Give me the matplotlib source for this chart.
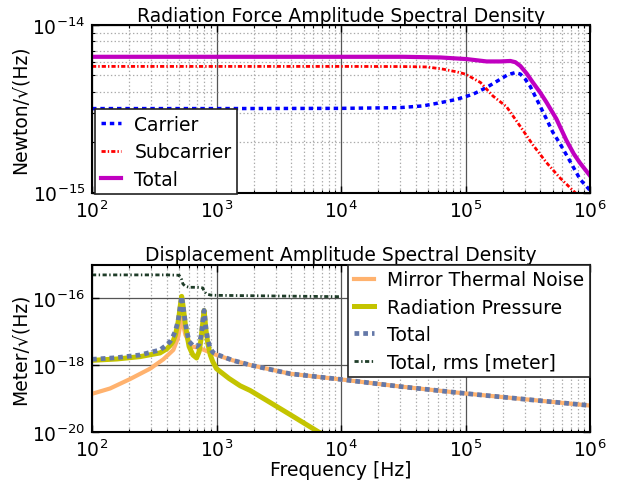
import numpy as np
import matplotlib
matplotlib.use("Agg")
import matplotlib.pyplot as plt
from matplotlib.ticker import LogLocator, NullFormatter, FixedLocator, NullLocator, LogFormatterSciNotation

# ---- top panel: radiation force ASD (log10 Hz, 1e-15 N/rtHz)
carrier_logf = [2.0, 3.0, 4.0, 4.47, 4.66, 4.80, 4.93, 5.06, 5.17, 5.28, 5.34, 5.40, 5.44,
                5.48, 5.52, 5.56, 5.60, 5.65, 5.70, 5.76, 5.81, 5.87, 5.92, 6.0]
carrier_val = [3.17, 3.17, 3.18, 3.21, 3.29, 3.44, 3.60, 3.86, 4.24, 4.75, 5.05, 5.20, 5.10,
               4.75, 4.30, 3.75, 3.27, 2.75, 2.30, 1.95, 1.68, 1.40, 1.20, 1.03]

sub_logf = [2.0, 3.0, 4.0, 4.5, 4.69, 4.82, 4.93, 5.0, 5.12, 5.22, 5.33, 5.44, 5.54,
            5.65, 5.76, 5.88, 6.0]
sub_val = [5.66, 5.66, 5.66, 5.65, 5.62, 5.45, 5.25, 5.09, 4.54, 3.77, 3.25, 2.48, 1.93,
           1.51, 1.22, 1.0, 0.82]

total_logf = [2.0, 3.0, 4.0, 4.5, 4.80, 5.01, 5.17, 5.28, 5.36, 5.40, 5.44, 5.49, 5.54,
              5.60, 5.65, 5.73, 5.81, 5.87, 5.92, 6.0]
total_val = [6.46, 6.46, 6.46, 6.46, 6.40, 6.26, 6.06, 6.06, 6.10, 6.00, 5.70, 5.15, 4.55,
             3.95, 3.46, 2.75, 2.05, 1.70, 1.50, 1.26]

# ---- bottom panel: displacement ASD (log10 Hz, log10 m/rtHz)
thermal_logf = [2.0, 2.145, 2.305, 2.466, 2.573, 2.653, 2.69, 2.72, 2.75, 2.80, 2.84, 2.90,
                2.97, 3.0, 3.13, 3.27, 3.59, 4.0, 4.47, 5.0, 5.5, 6.0]
thermal_val = [-18.86, -18.70, -18.42, -18.11, -17.83, -17.55, -17.2, -16.6, -17.1, -17.45,
               -17.47, -17.55, -17.66, -17.7, -17.86, -18.0, -18.26, -18.43, -18.64, -18.85,
               -19.03, -19.21]

radpress_logf = [2.0, 2.2, 2.385, 2.546, 2.60, 2.627, 2.65, 2.67, 2.69, 2.70, 2.71, 2.72,
                 2.73, 2.74, 2.75, 2.765, 2.78, 2.81, 2.84, 2.86, 2.875, 2.885, 2.895, 2.90,
                 2.905, 2.915, 2.93, 2.95, 2.97, 3.0, 3.1, 3.19, 3.27, 3.4, 3.6, 3.82, 3.9]
radpress_val = [-17.86, -17.82, -17.75, -17.64, -17.52, -17.42, -17.3, -17.1, -16.75, -16.5,
                -16.2, -15.95, -16.2, -16.5, -16.8, -17.15, -17.45, -17.7, -17.79, -17.6,
                -17.25, -16.9, -16.55, -16.37, -16.55, -16.95, -17.35, -17.7, -17.9, -18.11,
                -18.4, -18.62, -18.76, -19.05, -19.5, -20.0, -20.15]

disp_total_logf = [2.0, 2.2, 2.385, 2.546, 2.60, 2.627, 2.65, 2.67, 2.69, 2.70, 2.71, 2.72,
                   2.73, 2.74, 2.75, 2.765, 2.78, 2.81, 2.84, 2.86, 2.875, 2.885, 2.895, 2.90,
                   2.905, 2.915, 2.93, 2.95, 2.97, 3.0, 3.13, 3.27, 3.59, 4.0, 4.47, 5.0, 5.5,
                   6.0]
disp_total_val = [-17.83, -17.78, -17.7, -17.55, -17.4, -17.3, -17.15, -16.98, -16.7, -16.48,
                  -16.2, -15.95, -16.2, -16.48, -16.75, -17.05, -17.3, -17.42, -17.45, -17.38,
                  -17.15, -16.85, -16.52, -16.37, -16.52, -16.9, -17.25, -17.5, -17.62, -17.68,
                  -17.86, -18.0, -18.26, -18.43, -18.64, -18.85, -19.03, -19.21]

rms_logf = [2.0, 2.3, 2.6, 2.70, 2.72, 2.73, 2.75, 2.78, 2.82, 2.86, 2.89, 2.90, 2.92,
            2.95, 3.0, 3.5, 4.0]
rms_val = [-15.31, -15.31, -15.31, -15.32, -15.45, -15.58, -15.65, -15.68, -15.68, -15.68,
           -15.70, -15.80, -15.88, -15.91, -15.92, -15.94, -15.96]

FS = 13.5
plt.rcParams["lines.scale_dashes"] = False


def style_axis(ax):
    ax.set_xscale("log")
    ax.set_yscale("log")
    ax.set_xlim(1e2, 1e6)
    ax.tick_params(which="both", direction="in", top=True, right=True, labelsize=FS)
    ax.tick_params(which="major", length=5, width=1, pad=5)
    ax.tick_params(which="minor", length=2.5, width=0.8)
    ax.xaxis.set_minor_locator(LogLocator(base=10, subs=np.arange(2, 10), numticks=20))
    ax.xaxis.set_minor_formatter(NullFormatter())
    ax.grid(True, which="major", color="#555555", linestyle="-", linewidth=0.9)
    ax.grid(True, which="minor", color="#aaaaaa", linestyle=":", linewidth=0.9)
    for s in ax.spines.values():
        s.set_linewidth(1.5)
    ax.set_axisbelow(True)


def main():
    fig, (ax1, ax2) = plt.subplots(2, 1, figsize=(6.29, 4.89), dpi=100)
    fig.subplots_adjust(left=0.1463, right=0.938, top=0.9468, bottom=0.1145, hspace=0.43)

    # top
    style_axis(ax1)
    ax1.plot(10 ** np.array(carrier_logf), np.array(carrier_val) * 1e-15,
             color="blue", lw=2.5, dashes=(3.2, 2.8), label="Carrier")
    ax1.plot(10 ** np.array(sub_logf), np.array(sub_val) * 1e-15,
             color="red", lw=2, dashes=(3, 1.5, 1, 1.5), label="Subcarrier")
    ax1.plot(10 ** np.array(total_logf), np.array(total_val) * 1e-15, "-",
             color="#c000c0", lw=3, label="Total")
    ax1.set_ylim(1e-15, 1e-14)
    ax1.yaxis.set_major_locator(FixedLocator([1e-15, 1e-14]))
    ax1.yaxis.set_major_formatter(LogFormatterSciNotation())
    ax1.yaxis.set_minor_locator(LogLocator(base=10, subs=np.arange(2, 10), numticks=20))
    ax1.yaxis.set_minor_formatter(NullFormatter())
    ax1.set_title("Radiation Force Amplitude Spectral Density", fontsize=FS, pad=3)
    ax1.set_ylabel("Newton/√(Hz)", fontsize=FS, labelpad=2)
    leg1 = ax1.legend(loc="lower left", bbox_to_anchor=(0.006, -0.01), borderaxespad=0,
                      fontsize=FS, handlelength=1.1, labelspacing=0.45, handletextpad=0.7,
                      borderpad=0.3, fancybox=False, framealpha=1)
    leg1.get_frame().set_edgecolor("#222222")
    leg1.get_frame().set_linewidth(1.2)

    # bottom
    style_axis(ax2)
    ax2.plot(10 ** np.array(thermal_logf), 10 ** np.array(thermal_val), "-",
             color="#ffb26e", lw=3, label="Mirror Thermal Noise")
    ax2.plot(10 ** np.array(radpress_logf), 10 ** np.array(radpress_val), "-",
             color="#c4c400", lw=3.6, label="Radiation Pressure")
    ax2.plot(10 ** np.array(disp_total_logf), 10 ** np.array(disp_total_val),
             color="#6478a8", lw=3.4, dashes=(3.4, 2.9), label="Total")
    ax2.plot(10 ** np.array(rms_logf), 10 ** np.array(rms_val),
             color="#1e3c28", lw=2, dashes=(3, 1.8, 1, 1.8), label="Total, rms [meter]")
    ax2.set_ylim(1e-20, 1e-15)
    ax2.yaxis.set_major_locator(FixedLocator([1e-20, 1e-18, 1e-16]))
    ax2.yaxis.set_major_formatter(LogFormatterSciNotation())
    ax2.yaxis.set_minor_locator(NullLocator())
    ax2.set_title("Displacement Amplitude Spectral Density", fontsize=FS, pad=3)
    ax2.set_ylabel("Meter/√(Hz)", fontsize=FS, labelpad=2)
    ax2.set_xlabel("Frequency [Hz]", fontsize=FS, labelpad=0)
    leg2 = ax2.legend(loc="upper right", borderaxespad=0, fontsize=FS, handlelength=1.1,
                      labelspacing=0.45, handletextpad=0.7, borderpad=0.3,
                      fancybox=False, framealpha=1)
    leg2.get_frame().set_edgecolor("#222222")
    leg2.get_frame().set_linewidth(1.2)

    fig.savefig("out.png", dpi=100)


if __name__ == "__main__":
    main()
